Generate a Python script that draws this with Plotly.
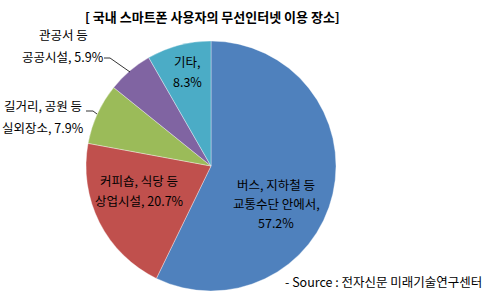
import plotly.graph_objects as go

W, H = 497, 296
categories = ["버스, 지하철 등 교통수단 안에서", "커피숍, 식당 등 상업시설", "길거리, 공원 등 실외장소", "관공서 등 공공시설", "기타"]
values = [57.2, 20.7, 7.9, 5.9, 8.3]
colors = ["#4F81BD", "#C0504D", "#9BBB59", "#8064A2", "#4BACC6"]
title_text = "[ 국내 스마트폰 사용자의 무선인터넷 이용 장소]"
source_text = "- Source : 전자신문 미래기술연구센터"

label_lines = [
    ["버스, 지하철 등", "교통수단 안에서,", "57.2%"],
    ["커피숍, 식당 등", "상업시설, 20.7%"],
    ["길거리, 공원 등", "실외장소, 7.9%"],
    ["관공서 등", "공공시설, 5.9%"],
    ["기타,", "8.3%"],
]
# label anchor (pixel centre x, first-line y, line gap)
label_pos = [(276, 184, 19), (139, 180, 20), (43, 105, 22), (63, 35, 22), (187, 62, 19)]

def px(x):
    return x / W

def py(y):
    return 1 - y / H

FONT = "Noto Sans CJK KR, Malgun Gothic, sans-serif"

fig = go.Figure(go.Pie(
    labels=categories, values=values, sort=False, direction="clockwise", rotation=0,
    marker=dict(colors=colors, line=dict(color="rgba(255,255,255,0.6)", width=0.6)),
    textinfo="none", hoverinfo="label+percent", showlegend=False,
    domain=dict(x=[px(86), px(336)], y=[py(291), py(41)]),
))

ann = [dict(text="<b>" + title_text + "</b>", x=px(212), y=py(16), xref="paper", yref="paper", showarrow=False,
            xanchor="center", yanchor="middle", font=dict(family=FONT, size=13, color="#000"))]
for lines, (cx, cy, gap) in zip(label_lines, label_pos):
    for i, t in enumerate(lines):
        ann.append(dict(text=t, x=px(cx), y=py(cy + i * gap), xref="paper", yref="paper",
                        showarrow=False, xanchor="center", yanchor="middle",
                        font=dict(family=FONT, size=12.5, color="#000")))
ann.append(dict(text=source_text, x=px(484), y=py(281), xref="paper", yref="paper", showarrow=False,
                xanchor="right", yanchor="middle", font=dict(family=FONT, size=12.5, color="#000")))

shapes = [
    dict(type="path", xref="paper", yref="paper",
         path=f"M {px(104)} {py(58)} L {px(110)} {py(58)} L {px(130)} {py(72)}",
         line=dict(color="#000", width=0.8)),
    dict(type="path", xref="paper", yref="paper",
         path=f"M {px(86)} {py(111)} L {px(93)} {py(111)} L {px(97)} {py(114)}",
         line=dict(color="#000", width=0.8)),
]

fig.update_layout(width=W, height=H, margin=dict(l=0, r=0, t=0, b=0),
                  paper_bgcolor="white", plot_bgcolor="white",
                  annotations=ann, shapes=shapes)
fig.write_html("out.html")
